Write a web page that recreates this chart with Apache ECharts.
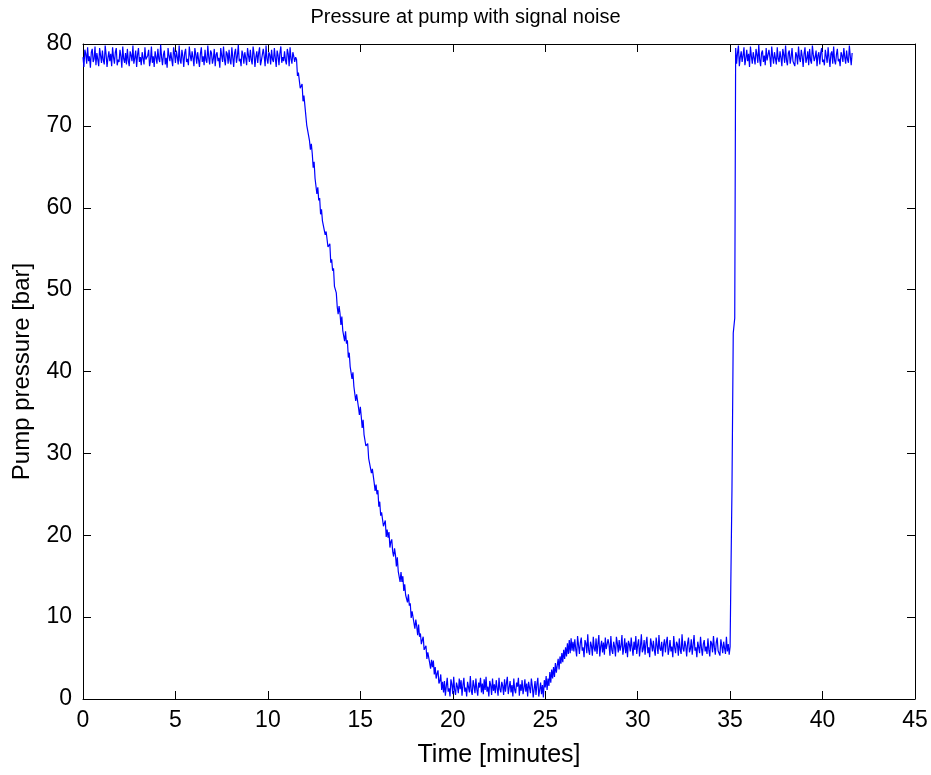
<!DOCTYPE html>
<html>
<head>
<meta charset="utf-8">
<script src="https://cdn.jsdelivr.net/npm/echarts@6/dist/echarts.min.js"></script>
<style>
html,body{margin:0;padding:0;background:#fff;}
#chart{width:931px;height:775px;}
</style>
</head>
<body>
<div id="chart"></div>
<script>
// ---- data ----
// each segment: start time [min], sample step [min], pressure values [bar]

const plateauHigh1Start = 0.0, plateauHigh1Step = 0.05;   // 0.00 .. 11.50
const plateauHigh1 = [
78.4,77.2,79.3,78.8,77.6,79.6,77.9,78.5,77.1,79.0,
79.4,77.8,78.2,79.7,77.4,78.9,78.1,77.3,79.5,78.6,
77.7,79.2,78.0,77.5,79.8,78.7,77.2,78.3,79.1,77.9,
78.8,77.3,79.6,78.4,77.6,79.0,79.5,77.4,78.1,77.8,
79.3,78.5,77.1,79.7,78.2,77.7,78.9,77.5,79.4,78.0,
77.3,79.1,78.6,77.9,79.8,77.6,78.3,79.2,77.2,78.7,
79.5,77.8,78.4,77.4,79.0,78.8,77.5,79.6,78.1,77.9,
78.6,79.3,77.3,78.0,79.7,77.7,78.5,77.2,79.1,78.9,
77.6,79.4,78.2,77.8,79.9,78.4,77.4,78.7,79.2,77.5,
78.3,77.1,79.5,78.6,77.9,79.0,78.1,77.3,79.6,78.8,
77.7,79.2,78.4,77.5,79.8,78.0,77.6,79.3,78.5,77.2,
78.9,79.4,77.8,78.2,77.4,79.7,78.6,77.9,79.1,78.3,
77.3,79.5,78.7,77.6,79.0,78.1,77.2,78.8,79.6,77.8,
78.5,77.4,79.3,78.0,77.7,79.8,78.4,77.5,79.2,78.9,
77.6,78.2,79.4,77.3,78.7,79.0,77.9,78.3,77.1,79.5,
78.6,77.8,79.7,78.1,77.4,79.1,78.8,77.6,79.3,78.0,
77.5,79.6,78.4,77.2,78.9,79.4,77.7,78.5,79.9,77.9,
78.2,77.3,79.2,78.7,77.6,79.0,78.3,77.4,79.5,78.6,
77.8,79.3,78.1,77.5,79.7,78.8,77.2,78.4,79.1,77.7,
78.9,79.6,77.4,78.0,77.9,79.4,78.5,77.3,79.8,78.2,
77.6,79.0,78.7,77.5,79.3,78.1,77.8,79.5,78.3,77.2,
79.2,78.6,77.4,78.9,79.7,77.7,78.4,77.9,79.1,78.0,
77.5,79.4,78.8,77.3,79.6,78.2,77.6,79.0,78.5,77.8,
78.4
];

const descentStart = 11.55, descentStep = 0.05;           // 11.55 .. 19.45
const descent = [
78.1,76.1,76.5,76.6,74.6,74.5,75.1,73.0,73.7,72.5,
72.6,70.1,70.3,70.1,68.2,67.1,67.8,66.6,64.9,65.6,
63.6,63.5,61.7,62.5,60.9,61.2,59.2,59.8,58.4,58.5,
58.4,56.7,57.1,57.2,55.2,55.2,55.6,53.3,53.7,52.3,
52.6,50.4,50.3,49.6,47.9,47.0,48.0,47.1,45.7,46.7,
45.0,45.2,43.7,44.9,43.4,43.8,41.7,42.3,40.6,40.5,
39.1,39.9,38.2,38.3,36.4,37.2,37.1,35.6,34.7,35.7,
34.5,33.1,34.1,32.3,32.4,30.9,31.1,31.2,29.4,29.3,
29.5,27.6,28.1,28.0,26.4,25.4,26.2,25.0,25.5,23.5,
24.1,22.4,22.8,22.9,21.1,21.2,21.8,19.8,20.7,19.7,
20.4,18.5,19.2,19.5,18.0,17.4,18.4,17.6,16.2,17.3,
15.6,15.8,14.3,15.5,14.3,15.0,13.2,14.0,12.7,12.9,
11.8,12.8,11.4,11.7,9.9,10.7,10.7,9.3,8.6,9.7,
8.9,7.8,9.1,7.6,8.0,6.7,7.2,7.6,6.0,6.1,
6.5,4.9,5.7,5.8,4.4,3.7,4.8,3.9,4.7,3.0,
3.9,2.5,3.1,3.5,1.9,2.2,3.0,1.1,2.1
];

const troughStart = 19.5, troughStep = 0.05;              // 19.50 .. 25.00
const trough = [
0.8,2.2,0.4,1.6,2.6,0.9,1.3,0.3,2.4,1.8,
0.6,2.7,1.1,0.5,2.0,1.5,0.7,2.5,1.2,2.3,
0.4,1.7,2.6,0.9,1.4,0.3,2.1,1.9,0.8,2.8,
1.0,0.5,2.3,1.6,0.7,2.5,1.2,0.4,2.0,1.4,
2.6,0.8,1.9,0.6,2.4,1.1,2.7,0.9,1.5,0.3,
2.2,1.7,0.5,2.5,1.0,1.8,0.7,2.3,1.3,0.4,
2.6,1.2,0.8,2.1,1.6,0.5,2.4,0.9,1.9,2.7,
0.6,1.4,2.2,0.8,1.7,0.3,2.5,1.1,0.7,2.0,
1.5,2.6,0.4,1.8,1.0,2.3,0.6,1.3,2.4,0.9,
1.9,0.3,2.1,1.4,0.7,2.5,1.6,0.2,1.2,2.2,
0.5,1.8,2.6,0.3,1.1,2.0,0.6,1.7,0.2,2.3,
1.4
];

const recoveryStart = 25.05, recoveryStep = 0.05;         // 25.05 .. 26.50
const recovery = [
2.8,1.1,2.5,1.6,3.3,2.0,3.6,2.5,3.9,2.7,
4.4,3.2,4.1,4.9,3.6,5.2,4.3,5.6,4.5,6.0,
4.9,6.3,5.2,6.8,5.5,7.2,5.6,7.4,5.9,7.0
];

const plateauLowStart = 26.55, plateauLowStep = 0.05;     // 26.55 .. 35.00
const plateauLow = [
5.8,7.3,6.1,5.2,7.7,6.6,5.5,6.9,7.5,5.9,
6.3,5.1,7.2,6.8,5.6,7.9,6.0,5.4,7.0,6.5,
5.3,7.6,6.2,5.8,7.4,5.5,6.7,7.8,5.2,6.4,
7.1,5.7,6.9,5.4,7.5,6.1,5.9,7.3,6.6,5.3,
7.7,6.0,5.5,7.0,6.4,5.2,7.6,6.8,5.7,7.2,
5.9,6.5,7.8,5.4,6.2,7.4,5.6,6.9,5.1,7.1,
6.7,5.8,7.5,6.3,5.3,7.0,6.0,7.7,5.5,6.6,
7.3,5.2,6.4,7.9,5.7,6.1,7.2,5.4,6.8,7.6,
5.6,6.3,5.1,7.4,6.7,5.8,7.1,6.0,5.3,7.5,
6.5,5.5,7.8,6.2,5.9,7.0,5.2,6.6,7.3,5.7,
6.9,7.6,5.4,6.1,7.2,5.8,6.4,5.1,7.7,6.3,
5.6,7.0,6.7,5.3,7.4,6.0,5.5,7.9,6.2,5.8,
7.1,6.5,5.2,6.8,7.5,5.7,6.1,7.3,5.4,6.6,
7.8,5.9,6.3,5.1,7.0,6.9,5.6,7.6,6.2,5.3,
6.7,7.2,5.8,6.4,5.5,7.4,6.0,5.2,7.1,6.8,
5.7,7.7,6.3,5.4,6.9,7.5,5.9,6.1,5.3,7.3,
6.5,5.6,7.0,6.2,5.5,7.6,5.8,6.7,5.4,6.4
];

// the fast pressure jump
const jumpTimes  = [35.04, 35.10, 35.17, 35.25];
const jumpValues = [14.5, 25.5, 44.7, 46.5];

const plateauHigh2Start = 35.3, plateauHigh2Step = 0.05;  // 35.30 .. 41.60
const plateauHigh2 = [
79.5,77.6,78.9,79.8,77.3,78.4,79.1,77.8,78.6,79.6,
77.4,78.2,79.3,77.9,78.8,77.2,79.7,78.5,77.6,79.0,
78.3,77.5,79.4,78.7,77.7,79.9,78.1,77.3,78.9,79.2,
77.8,78.6,77.4,79.5,78.0,77.9,79.3,78.4,77.2,79.7,
78.5,77.6,79.0,78.8,77.5,79.6,78.2,77.8,79.1,78.3,
77.3,79.4,78.7,77.7,79.8,78.0,77.4,78.9,79.2,77.6,
78.4,79.5,77.9,78.1,77.3,79.0,78.6,77.5,79.7,78.3,
77.8,79.3,78.5,77.2,78.8,79.6,77.7,78.2,79.1,77.4,
79.4,78.0,77.6,79.8,78.7,77.9,78.4,79.2,77.3,78.6,
79.0,77.5,78.9,79.5,77.8,78.1,77.4,79.3,78.5,77.7,
79.6,78.3,77.2,78.8,79.1,77.6,79.7,78.0,77.5,78.7,
79.4,77.9,78.2,77.3,79.0,78.6,77.8,79.5,78.4,77.6,
79.2,78.1,77.7,79.8,78.5,77.4,78.9
];

const xTicks = {min: 0, max: 45, interval: 5};
const yTicks = {min: 0, max: 80, interval: 10};

// ---- build series ----
function seg(start, step, arr) {
  return arr.map((v, i) => [+(start + i * step).toFixed(3), v]);
}
const series = []
  .concat(seg(plateauHigh1Start, plateauHigh1Step, plateauHigh1))
  .concat(seg(descentStart, descentStep, descent))
  .concat(seg(troughStart, troughStep, trough))
  .concat(seg(recoveryStart, recoveryStep, recovery))
  .concat(seg(plateauLowStart, plateauLowStep, plateauLow))
  .concat(jumpTimes.map((t, i) => [t, jumpValues[i]]))
  .concat(seg(plateauHigh2Start, plateauHigh2Step, plateauHigh2));

const FONT = '"Liberation Sans", Arial, Helvetica, sans-serif';
const black = '#000';

function boxAxis(extra) {
  return Object.assign({
    type: 'value',
    axisLine: {show: true, onZero: false, lineStyle: {color: black, width: 1}},
    axisTick: {show: true, inside: true, length: 8, lineStyle: {color: black, width: 1}},
    splitLine: {show: false},
  }, extra);
}

const chart = echarts.init(document.getElementById('chart'), null, {renderer: 'canvas'});
chart.setOption({
  animation: false,
  backgroundColor: '#fff',
  title: {
    text: 'Pressure at pump with signal noise',
    left: 'center',
    top: 2,
    textStyle: {fontFamily: FONT, fontSize: 20, fontWeight: 'normal', color: black}
  },
  grid: {left: 83, right: 16, top: 44, bottom: 76, containLabel: false},
  xAxis: [
    boxAxis({
      position: 'bottom', min: xTicks.min, max: xTicks.max, interval: xTicks.interval,
      axisLabel: {show: true, color: black, fontFamily: FONT, fontSize: 23, margin: 10},
      name: 'Time [minutes]', nameLocation: 'middle', nameGap: 44,
      nameTextStyle: {fontFamily: FONT, fontSize: 25, color: black}
    }),
    boxAxis({
      position: 'top', min: xTicks.min, max: xTicks.max, interval: xTicks.interval,
      axisLabel: {show: false}
    })
  ],
  yAxis: [
    boxAxis({
      position: 'left', min: yTicks.min, max: yTicks.max, interval: yTicks.interval,
      axisLabel: {show: true, color: black, fontFamily: FONT, fontSize: 23, margin: 11},
      name: 'Pump pressure [bar]', nameLocation: 'middle', nameGap: 49, nameRotate: 90,
      nameTextStyle: {fontFamily: FONT, fontSize: 24, color: black}
    }),
    boxAxis({
      position: 'right', min: yTicks.min, max: yTicks.max, interval: yTicks.interval,
      axisLabel: {show: false}
    })
  ],
  series: [{
    type: 'line',
    xAxisIndex: 0,
    yAxisIndex: 0,
    data: series,
    showSymbol: false,
    symbol: 'none',
    lineStyle: {color: '#0000ff', width: 1.2},
    itemStyle: {color: '#0000ff'}
  }]
});
</script>
</body>
</html>
